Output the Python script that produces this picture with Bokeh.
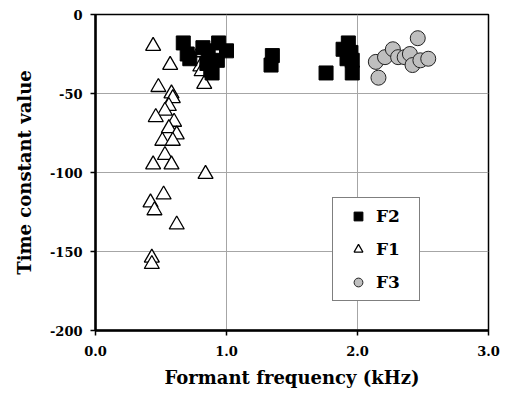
from bokeh.plotting import figure
from bokeh.models import Range1d, FixedTicker, Legend, LegendItem
from bokeh.embed import file_html
from bokeh.resources import INLINE

# F2 (black squares)
f2_x = [0.67, 0.70, 0.72, 0.82, 0.86, 0.94, 1.00, 0.93, 0.85, 0.88, 0.89,
        1.35, 1.34, 1.76, 1.93, 1.89, 1.95, 1.92, 1.96, 1.96]
f2_y = [-18, -25, -28, -21, -23, -18, -23, -29, -31, -35, -37,
        -26, -32, -37, -18, -22, -24, -28, -29, -37]

# F1 (open triangles)
f1_x = [0.44, 0.57, 0.79, 0.80, 0.81, 0.83, 0.48, 0.58, 0.59, 0.56, 0.53,
        0.46, 0.60, 0.56, 0.62, 0.51, 0.59, 0.53, 0.44, 0.58, 0.84,
        0.52, 0.42, 0.45, 0.62, 0.43, 0.43]
f1_y = [-20, -32, -24, -33, -36, -44, -46, -50, -53, -58, -61,
        -65, -68, -72, -76, -80, -80, -89, -95, -95, -101,
        -114, -119, -124, -133, -154, -158]

# F3 (grey circles)
f3_x = [2.14, 2.16, 2.21, 2.27, 2.31, 2.36, 2.40, 2.46, 2.42, 2.48, 2.54]
f3_y = [-30, -40, -27, -22, -27, -27, -25, -15, -32, -29, -28]

x_ticks = [0, 1, 2, 3]
x_tick_labels = ["0.0", "1.0", "2.0", "3.0"]
y_ticks = [0, -50, -100, -150, -200]
y_tick_labels = ["0", "-50", "-100", "-150", "-200"]

FONT = "DejaVu Serif"

p = figure(width=505, height=400, output_backend="svg", toolbar_location=None,
           x_range=Range1d(0, 3), y_range=Range1d(-200, 0),
           min_border_left=95, min_border_right=17, min_border_top=14,
           min_border_bottom=70)

p.background_fill_color = "white"
p.border_fill_color = "white"
p.outline_line_color = "black"
p.outline_line_width = 1.5

for ax in (p.xaxis[0], p.yaxis[0]):
    ax.axis_line_width = 2.5
    ax.axis_line_color = "black"
    ax.major_tick_line_color = "black"
    ax.major_tick_line_width = 1.5
    ax.major_tick_in = 0
    ax.major_tick_out = 5
    ax.minor_tick_line_color = None
    ax.major_label_text_font = FONT
    ax.major_label_text_font_style = "bold"
    ax.major_label_text_font_size = "13px"
    ax.major_label_text_color = "black"
    ax.axis_label_text_font = FONT
    ax.axis_label_text_font_style = "bold"
    ax.axis_label_text_font_size = "18px"
    ax.axis_label_text_color = "black"

p.xaxis.ticker = FixedTicker(ticks=x_ticks)
p.xaxis.major_label_overrides = dict(zip(x_ticks, x_tick_labels))
p.yaxis.ticker = FixedTicker(ticks=y_ticks)
p.yaxis.major_label_overrides = dict(zip(y_ticks, y_tick_labels))
p.xaxis.axis_label = "Formant frequency (kHz)"
p.yaxis.axis_label = "Time constant value"
p.xaxis.major_label_standoff = 10
p.xaxis.axis_label_standoff = 8
p.yaxis.major_label_standoff = 8
p.yaxis.axis_label_standoff = 12

p.xgrid.grid_line_color = "#a6a6a6"
p.ygrid.grid_line_color = "#a6a6a6"
p.xgrid.grid_line_width = 1
p.ygrid.grid_line_width = 1

r1 = p.scatter(f1_x, f1_y, marker="triangle", size=15, fill_color="white",
               line_color="black", line_width=1.3)
r2 = p.scatter(f2_x, f2_y, marker="square", size=14, fill_color="black",
               line_color="black", line_width=1)
r3 = p.scatter(f3_x, f3_y, marker="circle", size=15, fill_color="#bfbfbf",
               line_color="#222222", line_width=1)

legend = Legend(items=[LegendItem(label="F2", renderers=[r2]),
                       LegendItem(label="F1", renderers=[r1]),
                       LegendItem(label="F3", renderers=[r3])],
                location=(237, 29))
legend.label_text_font = FONT
legend.label_text_font_style = "bold"
legend.label_text_font_size = "17px"
legend.label_text_color = "black"
legend.border_line_color = "black"
legend.border_line_width = 1
legend.background_fill_color = "white"
legend.background_fill_alpha = 1
legend.padding = 7
legend.glyph_width = 36
legend.glyph_height = 22
legend.label_height = 22
legend.spacing = 11
legend.label_standoff = 0
legend.margin = 0
legend.label_width = 36
p.add_layout(legend, "center")

open("out.html", "w").write(file_html(p, INLINE))
